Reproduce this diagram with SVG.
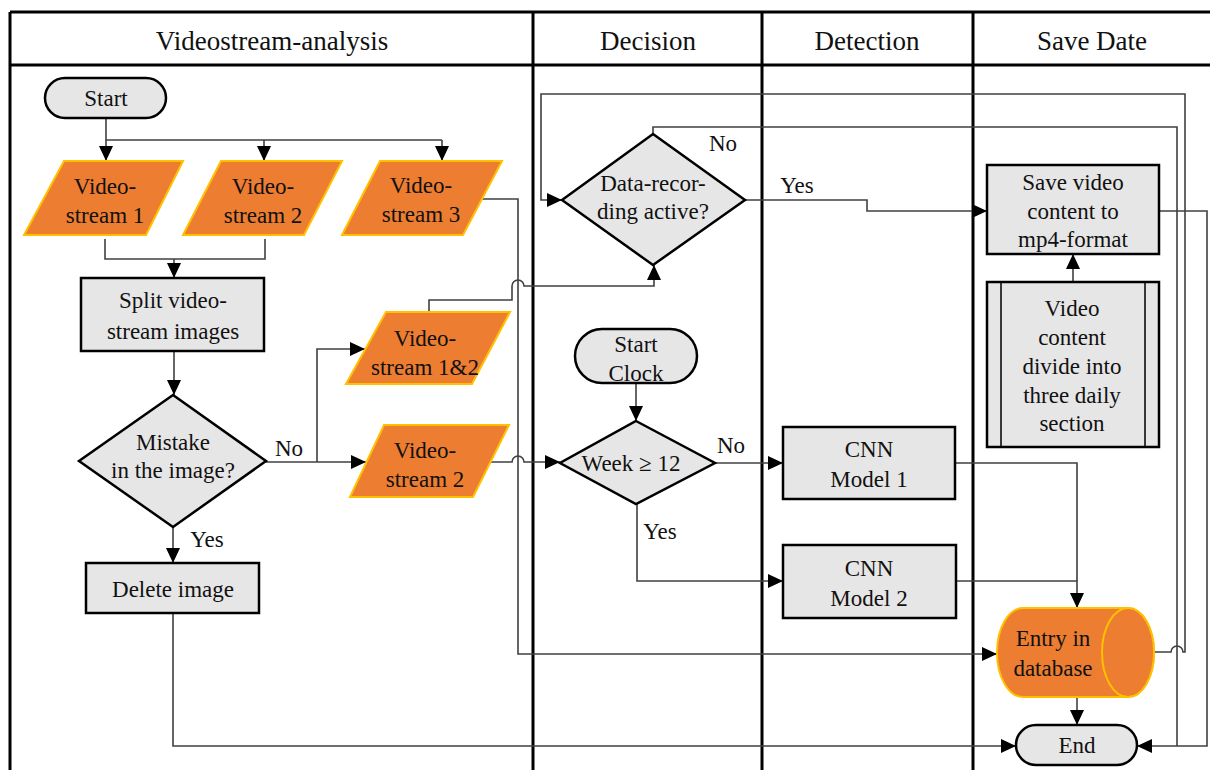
<svg xmlns="http://www.w3.org/2000/svg" width="1210" height="770" viewBox="0 0 1210 770">
<defs>
<marker id="ah" markerUnits="userSpaceOnUse" markerWidth="16" markerHeight="14" refX="15" refY="7" orient="auto">
<path d="M0,0 L15,7 L0,14 Z" fill="#000"/>
</marker>
<style>
text{font-family:"Liberation Serif","Times New Roman",serif;fill:#111;text-anchor:middle}
.hd{font-size:27px}
.t{font-size:23px}
.frame{stroke:#000;stroke-width:3;fill:none}
.proc{fill:#E7E6E6;stroke:#000;stroke-width:2.5}
.io{fill:#ED7D31;stroke:#FFC000;stroke-width:2}
.c{fill:none;stroke:#404040;stroke-width:1.6}
.ca{fill:none;stroke:#404040;stroke-width:1.6;marker-end:url(#ah)}
</style>
</defs>
<rect width="1210" height="770" fill="#fff"/>
<g id="frame">
<path class="frame" d="M10,12 H1210 M10,65 H1210 M10,12 V770 M533,12 V770 M762,12 V770 M973,12 V770"/>
<text class="hd" x="272" y="50">Videostream-analysis</text>
<text class="hd" x="648" y="50">Decision</text>
<text class="hd" x="867" y="50">Detection</text>
<text class="hd" x="1092" y="50">Save Date</text>
</g>
<g id="connectors">
<path class="c" d="M106,118 V140 H442"/>
<path class="ca" d="M106,140 V161"/>
<path class="ca" d="M264,140 V161"/>
<path class="ca" d="M442,140 V161"/>
<path class="c" d="M105,239 V259 H265 V239"/>
<path class="ca" d="M174,259 V278"/>
<path class="ca" d="M174,351 V395"/>
<path class="ca" d="M266,462 H366"/>
<path class="ca" d="M317,462 V349 H365"/>
<path class="ca" d="M173,527 V563"/>
<path class="ca" d="M173,613 V746 H1016"/>
<path class="ca" d="M429,312 V300 H512 V286 a6,6 0 0 1 12,0 H654 V265"/>
<path class="ca" d="M482,199 H518 V654 H997"/>
<path class="ca" d="M490,462 H512 a6,6 0 0 1 12,0 H560"/>
<path class="ca" d="M745,200 H867 V211 H987"/>
<path class="c" d="M653,134 V127 H1177 V746"/>
<path class="ca" d="M1159,211 H1207 V746 H1137"/>
<path class="ca" d="M1155,652 H1171 a6,6 0 0 1 12,0 H1185 V94 H541 V200 H562"/>
<path class="ca" d="M1073,282 V254"/>
<path class="ca" d="M636,383 V421"/>
<path class="ca" d="M715,463 H783"/>
<path class="ca" d="M637,504 V581 H783"/>
<path class="c" d="M955,463 H1077 V581"/>
<path class="ca" d="M956,581 H1077 V608"/>
<path class="ca" d="M1077,697 V725"/>
</g>
<g id="start">
<rect class="proc" x="45" y="78" width="121" height="40" rx="20"/>
<text class="t" x="106" y="106">Start</text>
</g>
<g id="vs1">
<polygon class="io" points="64,161 183,161 146,235 24,235"/>
<text class="t" x="105" y="194">Video-</text>
<text class="t" x="105" y="223">stream 1</text>
</g>
<g id="vs2">
<polygon class="io" points="221,161 342,161 304,235 183,235"/>
<text class="t" x="263" y="194">Video-</text>
<text class="t" x="263" y="223">stream 2</text>
</g>
<g id="vs3">
<polygon class="io" points="380,161 502,161 463,235 342,235"/>
<text class="t" x="421" y="193">Video-</text>
<text class="t" x="421" y="222">stream 3</text>
</g>
<g id="split">
<rect class="proc" x="81" y="278" width="183" height="73"/>
<text class="t" x="173" y="308">Split video-</text>
<text class="t" x="173" y="339">stream images</text>
</g>
<g id="mistake">
<polygon class="proc" points="173,395 266,461 173,527 79,461"/>
<text class="t" x="173" y="450">Mistake</text>
<text class="t" x="173" y="478">in the image?</text>
</g>
<g id="vs12">
<polygon class="io" points="386,312 510,312 472,384 346,384"/>
<text class="t" x="425" y="346">Video-</text>
<text class="t" x="425" y="375">stream 1&amp;2</text>
</g>
<g id="vs2b">
<polygon class="io" points="384,425 509,425 473,497 350,497"/>
<text class="t" x="425" y="458">Video-</text>
<text class="t" x="425" y="487">stream 2</text>
</g>
<g id="delete">
<rect class="proc" x="86" y="563" width="173" height="50"/>
<text class="t" x="173" y="597">Delete  image</text>
</g>
<g id="datarec">
<polygon class="proc" points="653,134 745,200 653,265 562,200"/>
<text class="t" x="653" y="191">Data-recor-</text>
<text class="t" x="653" y="219">ding active?</text>
</g>
<g id="startclock">
<rect class="proc" x="575" y="329" width="122" height="54" rx="27"/>
<text class="t" x="636" y="352">Start</text>
<text class="t" x="636" y="381">Clock</text>
</g>
<g id="week">
<polygon class="proc" points="636,421 715,463 636,504 560,463"/>
<text class="t" x="631" y="471">Week ≥ 12</text>
</g>
<g id="cnn1">
<rect class="proc" x="783" y="427" width="172" height="72"/>
<text class="t" x="869" y="457">CNN</text>
<text class="t" x="869" y="487">Model 1</text>
</g>
<g id="cnn2">
<rect class="proc" x="783" y="545" width="173" height="73"/>
<text class="t" x="869" y="576">CNN</text>
<text class="t" x="869" y="606">Model 2</text>
</g>
<g id="savevideo">
<rect class="proc" x="987" y="165" width="172" height="89"/>
<text class="t" x="1073" y="190">Save video</text>
<text class="t" x="1073" y="219">content to</text>
<text class="t" x="1073" y="247">mp4-format</text>
</g>
<g id="videocontent">
<rect class="proc" x="987" y="282" width="172" height="165"/>
<path d="M1001,282 V447 M1145,282 V447" stroke="#000" stroke-width="1.5"/>
<text class="t" x="1072" y="316">Video</text>
<text class="t" x="1072" y="345">content</text>
<text class="t" x="1072" y="374">divide into</text>
<text class="t" x="1072" y="403">three daily</text>
<text class="t" x="1072" y="431">section</text>
</g>
<g id="database">
<path class="io" d="M1023,608 H1128 A26,44.5 0 0 1 1128,697 H1023 A26,44.5 0 0 1 1023,608 Z"/>
<ellipse class="io" cx="1128" cy="652.5" rx="26" ry="44.5"/>
<text class="t" x="1053" y="646">Entry in</text>
<text class="t" x="1053" y="676">database</text>
</g>
<g id="end">
<rect class="proc" x="1016" y="725" width="121" height="40" rx="20"/>
<text class="t" x="1077" y="753">End</text>
</g>
<g id="labels">
<text class="t" x="289" y="456">No</text>
<text class="t" x="207" y="547">Yes</text>
<text class="t" x="723" y="151">No</text>
<text class="t" x="797" y="193">Yes</text>
<text class="t" x="731" y="453">No</text>
<text class="t" x="660" y="539">Yes</text>
</g>
</svg>
